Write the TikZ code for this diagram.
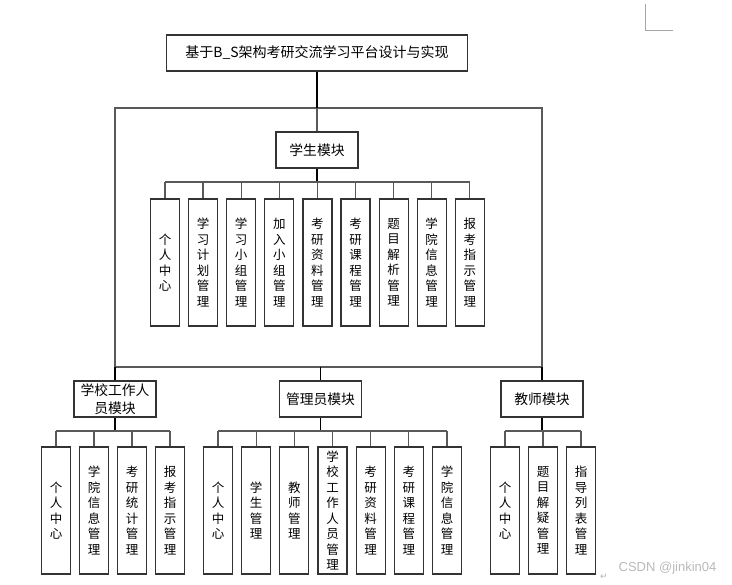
\documentclass[tikz,border=0pt]{standalone}
\usepackage{fontspec}
\usepackage{tikz}
\newfontfamily\cjk{Noto Sans CJK SC}
\newfontfamily\wmfont{Liberation Sans}
\newfontfamily\symfont{DejaVu Sans}

\tikzset{
  titlebox/.style={draw=black!80, line width=1.2pt, minimum width=301pt,
    minimum height=36pt, inner sep=0pt, font=\cjk\fontsize{14}{16}\selectfont},
  modbox/.style={draw=black!80, line width=1.2pt, minimum width=82pt,
    minimum height=36pt, inner sep=0pt, align=center,
    font=\cjk\fontsize{13.8}{18}\selectfont},
  leafbox/.style={draw=black!80, line width=1.2pt, minimum width=29pt,
    minimum height=127pt, inner sep=0pt, align=center,
    font=\cjk\fontsize{12.5}{15.5}\selectfont},
  link/.style={draw=black!65, line width=1.3pt},
  stem/.style={draw=black, line width=1.5pt},
}

\begin{document}
\begin{tikzpicture}[x=1pt, y=-1pt]
  \useasboundingbox (0,0) rectangle (732,585);

  % Title and modules
  \node[titlebox] (title) at (317,53) {基于B\_S架构考研交流学习平台设计与实现};
  \node[modbox] (stu) at (317,150) {学生模块};
  \node[modbox] (school) at (115,399) {学校工作人\\员模块};
  \node[modbox] (admin) at (320.5,399) {管理员模块};
  \node[modbox] (teacher) at (542,399) {教师模块};

  % Frame
  \coordinate (topL) at (115,108);
  \coordinate (topR) at (542,108);
  \coordinate (botL) at (115,367);
  \coordinate (botR) at (542,367);
  \draw[link] (topL) -- (topR) -- (botR) -- (botL) -- cycle;
  \draw[stem] (title.south) -- (title.south |- topL);
  \draw[link] (stu.north |- topL) -- (stu.north);
  \draw[stem] (botL) -- (school.north);
  \draw[stem] (admin.north |- botL) -- (admin.north);
  \draw[stem] (botR) -- (teacher.north);

  % Student leaves
  \node[leafbox] (s1) at (165,262.5) {个\\人\\中\\心};
  \node[leafbox] (s2) at (203.1,262.5) {学\\习\\计\\划\\管\\理};
  \node[leafbox] (s3) at (241.2,262.5) {学\\习\\小\\组\\管\\理};
  \node[leafbox] (s4) at (279.3,262.5) {加\\入\\小\\组\\管\\理};
  \node[leafbox] (s5) at (317.4,262.5) {考\\研\\资\\料\\管\\理};
  \node[leafbox] (s6) at (355.5,262.5) {考\\研\\课\\程\\管\\理};
  \node[leafbox] (s7) at (393.6,262.5) {题\\目\\解\\析\\管\\理};
  \node[leafbox] (s8) at (431.7,262.5) {学\\院\\信\\息\\管\\理};
  \node[leafbox] (s9) at (469.8,262.5) {报\\考\\指\\示\\管\\理};

  \coordinate (stubus) at (317,182);
  \draw[stem] (stu.south) -- (stu.south |- stubus);
  \draw[link] (s1.north |- stubus) -- (s9.north |- stubus);
  \draw[link] (s1.north) -- (s1.north |- stubus) (s2.north) -- (s2.north |- stubus)
    (s3.north) -- (s3.north |- stubus) (s4.north) -- (s4.north |- stubus)
    (s5.north) -- (s5.north |- stubus) (s6.north) -- (s6.north |- stubus)
    (s7.north) -- (s7.north |- stubus) (s8.north) -- (s8.north |- stubus)
    (s9.north) -- (s9.north |- stubus);

  % School staff leaves
  \node[leafbox] (w1) at (56,510.5) {个\\人\\中\\心};
  \node[leafbox] (w2) at (94,510.5) {学\\院\\信\\息\\管\\理};
  \node[leafbox] (w3) at (132,510.5) {考\\研\\统\\计\\管\\理};
  \node[leafbox] (w4) at (170,510.5) {报\\考\\指\\示\\管\\理};

  \coordinate (lowbus) at (0,431);
  \draw[stem] (school.south) -- (school.south |- lowbus);
  \draw[link] (w1.north |- lowbus) -- (w4.north |- lowbus);
  \draw[link] (w1.north) -- (w1.north |- lowbus) (w2.north) -- (w2.north |- lowbus)
    (w3.north) -- (w3.north |- lowbus) (w4.north) -- (w4.north |- lowbus);

  % Admin leaves
  \node[leafbox] (a1) at (218,510.5) {个\\人\\中\\心};
  \node[leafbox] (a2) at (256.2,510.5) {学\\生\\管\\理};
  \node[leafbox] (a3) at (294.3,510.5) {教\\师\\管\\理};
  \node[leafbox] (a4) at (332.5,510.5) {学\\校\\工\\作\\人\\员\\管\\理};
  \node[leafbox] (a5) at (370.7,510.5) {考\\研\\资\\料\\管\\理};
  \node[leafbox] (a6) at (408.8,510.5) {考\\研\\课\\程\\管\\理};
  \node[leafbox] (a7) at (447,510.5) {学\\院\\信\\息\\管\\理};

  \draw[stem] (admin.south) -- (admin.south |- lowbus);
  \draw[link] (a1.north |- lowbus) -- (a7.north |- lowbus);
  \draw[link] (a1.north) -- (a1.north |- lowbus) (a2.north) -- (a2.north |- lowbus)
    (a3.north) -- (a3.north |- lowbus) (a4.north) -- (a4.north |- lowbus)
    (a5.north) -- (a5.north |- lowbus) (a6.north) -- (a6.north |- lowbus)
    (a7.north) -- (a7.north |- lowbus);

  % Teacher leaves
  \node[leafbox] (t1) at (505,510.5) {个\\人\\中\\心};
  \node[leafbox] (t2) at (543,510.5) {题\\目\\解\\疑\\管\\理};
  \node[leafbox] (t3) at (581,510.5) {指\\导\\列\\表\\管\\理};

  \draw[stem] (teacher.south) -- (teacher.south |- lowbus);
  \draw[link] (t1.north |- lowbus) -- (t3.north |- lowbus);
  \draw[link] (t1.north) -- (t1.north |- lowbus) (t2.north) -- (t2.north |- lowbus)
    (t3.north) -- (t3.north |- lowbus);

  % Page marks
  \draw[gray!70, line width=1pt] (645,4) -- (645,31) -- (673,31);
  \node[text=gray!60, font=\symfont\fontsize{9}{9}\selectfont] (para) at (604,577) {↵};
  \node[text=gray!55, font=\wmfont\fontsize{13}{13}\selectfont] (mark) at (667.5,568) {CSDN @jinkin04};
\end{tikzpicture}
\end{document}
